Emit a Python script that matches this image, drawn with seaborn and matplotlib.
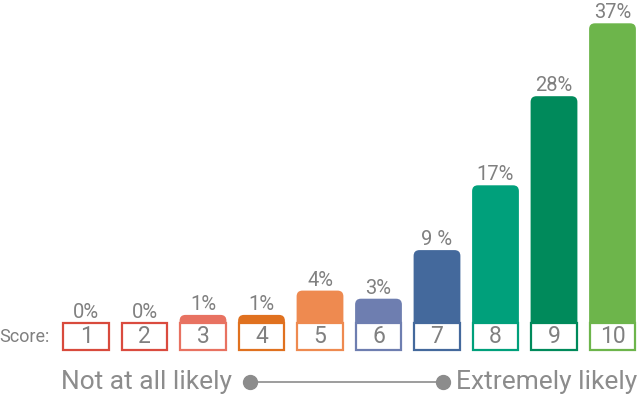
import matplotlib
matplotlib.use("Agg")
import matplotlib.pyplot as plt
from matplotlib.patches import FancyBboxPatch, Rectangle
import seaborn as sns
import pandas as pd

scores = ["1", "2", "3", "4", "5", "6", "7", "8", "9", "10"]
shares = [0, 0, 1, 1, 4, 3, 9, 17, 28, 37]
share_labels = ["0%", "0%", "1%", "1%", "4%", "3%", "9 %", "17%", "28%", "37%"]
colors = ["#d84a3c", "#da4b3f", "#e87261", "#e0711f", "#ee8a50",
          "#6e7eb0", "#44699c", "#00a07b", "#008a5b", "#6db54b"]
low_label = "Not at all likely"
high_label = "Extremely likely"

df = pd.DataFrame({"score": scores, "share": shares})

sns.set_style("white")
plt.rcParams["font.family"] = ["Roboto", "DejaVu Sans"]

W, H = 637, 397
fig = plt.figure(figsize=(W / 100, H / 100), dpi=100)
ax = fig.add_axes([0, 0, 1, 1])

# pixel layout: category pitch and percent scale
px_x = 58.5
px_y = 8.1
base_px = 323

sns.barplot(data=df, x="score", y="share", hue="score", palette=colors,
            width=0.8, legend=False, ax=ax)
ax.set_xlim(-86 / px_x, (W - 86) / px_x)
ax.set_ylim(-(H - base_px) / px_y, base_px / px_y)

box_h = 27 / px_y
text_gray = "#808080"

for i, p in enumerate(list(ax.patches)):
    x, w, h = p.get_x(), p.get_width(), p.get_height()
    col = colors[i]
    p.remove()
    if h > 0:
        ax.add_patch(FancyBboxPatch((x, -box_h), w, h + box_h,
                                    boxstyle="round,pad=0,rounding_size=0.1",
                                    mutation_aspect=px_x / px_y,
                                    fc=col, ec="none", zorder=2))
    ax.add_patch(Rectangle((x + 0.01, -box_h), w - 0.02, box_h, fc="white",
                           ec=col, lw=1.6, zorder=3))
    ax.text(x + w / 2, -box_h / 2, scores[i], ha="center", va="center",
            fontsize=16.5, color=text_gray, zorder=4)
    ax.text(x + w / 2, h + 5 / px_y, share_labels[i], ha="center",
            va="baseline", fontsize=14.5, color=text_gray, zorder=4)

ax.text(50 / px_x - 86 / px_x, -box_h / 2, "Score:", ha="right", va="center",
        fontsize=13, color=text_gray)

# scale line
line_y = -(382 - base_px) / px_y
x_lo = (250 - 86) / px_x
x_hi = (443 - 86) / px_x
ax.plot([x_lo, x_hi], [line_y, line_y], color="#8c8c8c", lw=1.2)
ax.plot([x_lo, x_hi], [line_y, line_y], "o", color="#8c8c8c", ms=10)
ax.text((232 - 86) / px_x, line_y, low_label, ha="right", va="center",
        fontsize=19, color="#8c8c8c")
ax.text((456 - 86) / px_x, line_y, high_label, ha="left", va="center",
        fontsize=19, color="#8c8c8c")

ax.axis("off")
fig.savefig("out.png", dpi=100)
